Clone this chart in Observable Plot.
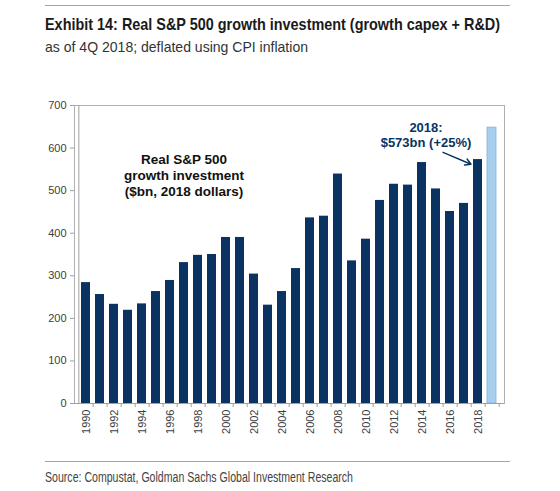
<!DOCTYPE html>
<html>
<head>
<meta charset="utf-8">
<script src="https://cdn.jsdelivr.net/npm/d3@7"></script>
<script src="https://cdn.jsdelivr.net/npm/@observablehq/plot@0.6"></script>
<style>
  html, body { margin: 0; padding: 0; background: #fff; }
  #wrap { position: relative; width: 560px; height: 491px; overflow: hidden; font-family: "Liberation Sans", Arial, sans-serif; }
  .rule { position: absolute; height: 0; border-top: 1.5px solid #a6a6a6; }
  .txt { position: absolute; line-height: 1; white-space: nowrap; transform-origin: 0 0; }
  #title { left: 45px; top: 15.6px; font-size: 17px; font-weight: bold; color: #1a1a1a; }
  #subtitle { left: 45px; top: 39.3px; font-size: 15px; color: #333; }
  #chart { position: absolute; left: 0; top: 90px; }
  #source { left: 45px; top: 469.7px; font-size: 14px; color: #444; }
</style>
</head>
<body>
<div id="wrap">
  <div class="rule" style="left:45px; width:465px; top:5px;"></div>
  <div id="title" class="txt">Exhibit 14: Real S&amp;P 500 growth investment (growth capex + R&amp;D)</div>
  <div id="subtitle" class="txt">as of 4Q 2018; deflated using CPI inflation</div>
  <div id="chart"></div>
  <div class="rule" style="left:45px; width:465px; top:461px;"></div>
  <div id="source" class="txt">Source: Compustat, Goldman Sachs Global Investment Research</div>
</div>
<script>
const years = ["1990","1991","1992","1993","1994","1995","1996","1997","1998","1999",
               "2000","2001","2002","2003","2004","2005","2006","2007","2008","2009",
               "2010","2011","2012","2013","2014","2015","2016","2017","2018","2019E"];
const values = [284, 256, 233, 219, 234, 263, 289, 331, 348, 350,
                390, 390, 304, 231, 263, 317, 436, 440, 539, 335,
                386, 477, 515, 513, 566, 504, 451, 470, 573, 648];
const estimateFlags = [0,0,0,0,0,0,0,0,0,0, 0,0,0,0,0,0,0,0,0,0, 0,0,0,0,0,0,0,0,0,1];
const labeledYears = ["1990","1992","1994","1996","1998","2000","2002","2004","2006","2008","2010","2012","2014","2016","2018"];
const yTicks = [0, 100, 200, 300, 400, 500, 600, 700];
const innerLabel = "Real S&P 500\ngrowth investment\n($bn, 2018 dollars)";
const calloutLabel = "2018:\n$573bn (+25%)";

// condense header/footer text to the narrow face widths of the original
const narrowWidths = { title: 455, subtitle: 263, source: 308 };
for (const [id, w] of Object.entries(narrowWidths)) {
  const el = document.getElementById(id);
  const s = w / el.getBoundingClientRect().width;
  el.style.transform = `scaleX(${s})`;
}

const data = years.map((y, i) => ({year: y, value: values[i], est: estimateFlags[i] === 1}));

const W = 560, H = 360, mL = 74, mR = 56, mT = 15, mB = 47;
const halfStep = (W - mL - mR) / years.length / 2;
const navy = "#0a3361";
const font = "'Liberation Sans', Arial, sans-serif";

const chart = Plot.plot({
  width: W, height: H,
  marginLeft: mL, marginRight: mR, marginTop: mT, marginBottom: mB,
  style: { fontFamily: font, fontSize: "11px", color: "#404040", background: "#fff" },
  x: { domain: years, padding: 0.34, label: null },
  y: { domain: [0, 700], label: null },
  marks: [
    Plot.barY(data, {
      x: "year", y: "value",
      fill: d => d.est ? "#a9cfee" : navy,
      stroke: d => d.est ? "#7fb0dc" : "none",
      strokeWidth: 0.8
    }),
    Plot.frame({ stroke: "#b0b0b0", strokeWidth: 1 }),
    Plot.ruleY([0], { stroke: "#a0a0a0" }),
    Plot.ruleX([years[0]], { stroke: "#a0a0a0", dx: -halfStep }),
    Plot.axisY({ ticks: yTicks, tickSize: 4, tickPadding: 4, stroke: "#a0a0a0", fill: "#404040", fontSize: 11, label: null }),
    Plot.axisX({ ticks: years, tickSize: 4, dx: halfStep, text: null, stroke: "#a0a0a0", label: null }),
    Plot.axisX({ ticks: labeledYears, tickSize: 0, tickPadding: 6, tickRotate: -90, fill: "#404040", fontSize: 11, label: null }),
    Plot.text([innerLabel], {
      x: () => "1997", y: () => 537, text: d => d,
      fontWeight: "bold", fontSize: 13.5, fill: "#111", lineHeight: 1.2, fontFamily: font
    }),
    Plot.text([calloutLabel], {
      x: () => "2014", y: () => 632, text: d => d, dx: 4,
      fontWeight: "bold", fontSize: 13, fill: navy, lineHeight: 1.15, fontFamily: font
    }),
    Plot.arrow([{a: "2016", b: "2018", y1: 590, y2: 562}], {
      x1: "a", x2: "b", y1: "y1", y2: "y2", dx: -7,
      stroke: navy, strokeWidth: 1.4, headLength: 7, bend: 0
    })
  ]
});
document.getElementById("chart").appendChild(chart);
</script>
</body>
</html>
